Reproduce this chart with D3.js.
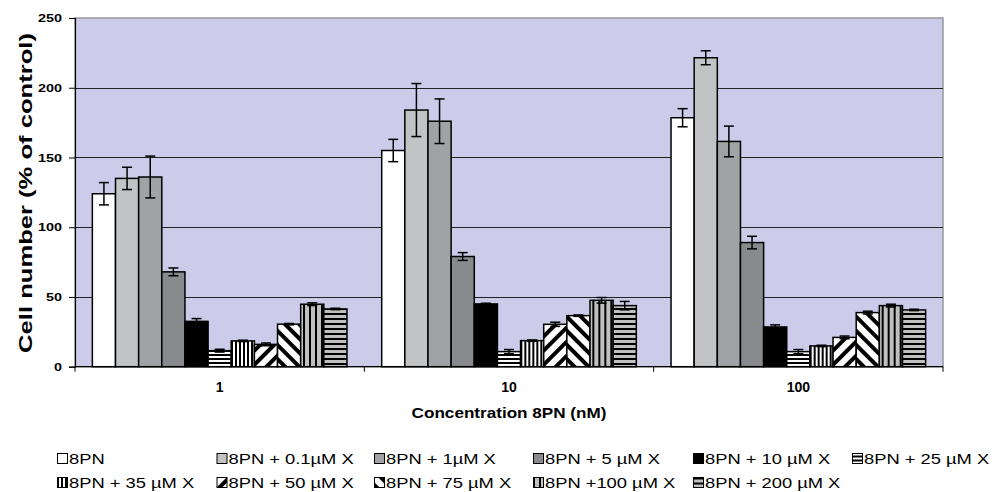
<!DOCTYPE html>
<html>
<head>
<meta charset="utf-8">
<script src="https://cdn.jsdelivr.net/npm/d3@7"></script>
<style>
body { margin: 0; background: #fff; }
text { font-family: Arial, "Liberation Sans", sans-serif; }
</style>
</head>
<body>
<div id="chart"></div>
<script>
const width = 993;
const height = 492;
const margin = {top: 18, right: 50, bottom: 125, left: 75};

// data
const groups = ['1', '10', '100'];
const seriesNames = ['8PN', '8PN + 0.1µM X', '8PN + 1µM X', '8PN + 5 µM X', '8PN + 10 µM X', '8PN + 25 µM X',
  '8PN + 35 µM X', '8PN + 50 µM X', '8PN + 75 µM X', '8PN +100 µM X', '8PN + 200 µM X'];
const values1 = [124, 135, 136, 68, 32.5, 11.5, 18.5, 16, 30.5, 44.8, 41.4];
const values10 = [155, 184, 176, 79, 45, 10.8, 18.7, 30.4, 36.6, 47.6, 43.8];
const values100 = [178.5, 221.5, 161.5, 89, 28.5, 10.8, 14.9, 21, 38.8, 43.8, 40.7];
const errors1 = [8, 8, 15, 2.8, 2, 1, 0.5, 1, 0.5, 1, 0.5];
const errors10 = [8, 19, 16, 2.8, 0.5, 1.5, 0.5, 1.5, 0.5, 2, 3];
const errors100 = [6.5, 5, 11, 4.5, 1.5, 1.5, 0.5, 1, 1, 1, 0.5];
const yTicks = [0, 50, 100, 150, 200, 250];

const allValues = [values1, values10, values100];
const allErrors = [errors1, errors10, errors100];

const innerW = 943 - margin.left;
const innerH = 366.7 - margin.top;

const svg = d3.select('#chart').append('svg').attr('width', width).attr('height', height);
const defs = svg.append('defs');

// hatch patterns
function pattern(id, w, h, bg, draw) {
  const p = defs.append('pattern').attr('id', id).attr('patternUnits', 'userSpaceOnUse')
    .attr('width', w).attr('height', h);
  p.append('rect').attr('width', w).attr('height', h).attr('fill', bg);
  draw(p);
}
pattern('p25', 4, 4, '#fff', p => p.append('rect').attr('y', 0).attr('width', 4).attr('height', 2).attr('fill', '#000'));
pattern('p35', 4, 4, '#fff', p => p.append('rect').attr('x', 0).attr('width', 2).attr('height', 4).attr('fill', '#000'));
pattern('p50', 10, 10, '#fff', p => {
  p.attr('patternTransform', 'rotate(45)');
  p.append('rect').attr('x', 0).attr('width', 4).attr('height', 10).attr('fill', '#000');
});
pattern('p75', 10, 10, '#fff', p => {
  p.attr('patternTransform', 'rotate(-45)');
  p.append('rect').attr('x', 0).attr('width', 4).attr('height', 10).attr('fill', '#000');
});
pattern('p100', 6, 6, '#c0c0c0', p => p.append('rect').attr('x', 0).attr('width', 2).attr('height', 6).attr('fill', '#000'));
pattern('p200', 5, 5, '#c0c0c0', p => p.append('rect').attr('y', 0).attr('width', 5).attr('height', 2).attr('fill', '#000'));

const fills = ['#ffffff', '#c2c3c5', '#a0a2a6', '#888a8e', '#000000', 'url(#p25)',
  'url(#p35)', 'url(#p50)', 'url(#p75)', 'url(#p100)', 'url(#p200)'];

// stretch a text element horizontally so it reaches a given width
function fitWidth(sel, target, extra) {
  sel.each(function (d) {
    const w = this.getComputedTextLength();
    const t = typeof target === 'function' ? target(d) : target;
    d3.select(this).attr('transform', `${extra || ''} scale(${t / w},1)`);
  });
}

const g = svg.append('g').attr('transform', `translate(${margin.left},${margin.top})`);

const x0 = d3.scaleBand().domain(groups).range([0, innerW]).paddingInner(0).paddingOuter(0);
const x1 = d3.scaleBand().domain(d3.range(seriesNames.length)).range([0, x0.bandwidth()])
  .paddingInner(0).paddingOuter(0.75);
const y = d3.scaleLinear().domain([0, 250]).range([innerH, 0]);

// plot background
g.append('rect').attr('width', innerW).attr('height', innerH).attr('fill', '#ccccea')
  .attr('stroke', '#999').attr('stroke-width', 1.5);

// gridlines
g.selectAll('.grid').data(yTicks.filter(t => t > 0 && t < 250)).enter().append('line')
  .attr('x1', 0).attr('x2', innerW)
  .attr('y1', d => Math.round(y(d)) + 0.5).attr('y2', d => Math.round(y(d)) + 0.5)
  .attr('stroke', '#222').attr('stroke-width', 1.2);

// bars
const groupG = g.selectAll('.grp').data(groups).enter().append('g')
  .attr('transform', d => `translate(${x0(d)},0)`);

groupG.each(function (grp, gi) {
  const sel = d3.select(this);
  const vals = allValues[gi];
  const errs = allErrors[gi];
  sel.selectAll('rect').data(vals).enter().append('rect')
    .attr('x', (d, i) => x1(i))
    .attr('y', d => y(d))
    .attr('width', x1.bandwidth())
    .attr('height', d => innerH - y(d))
    .attr('fill', (d, i) => fills[i])
    .attr('stroke', '#000').attr('stroke-width', 1.5);

  const eb = sel.selectAll('.err').data(vals).enter().append('g').attr('class', 'err');
  const cx = (d, i) => x1(i) + x1.bandwidth() / 2;
  eb.append('line')
    .attr('x1', cx).attr('x2', cx)
    .attr('y1', (d, i) => y(d + errs[i])).attr('y2', (d, i) => y(d - errs[i]))
    .attr('stroke', '#000').attr('stroke-width', 1.5);
  eb.append('line')
    .attr('x1', (d, i) => cx(d, i) - 5).attr('x2', (d, i) => cx(d, i) + 5)
    .attr('y1', (d, i) => y(d + errs[i])).attr('y2', (d, i) => y(d + errs[i]))
    .attr('stroke', '#000').attr('stroke-width', 1.5);
  eb.append('line')
    .attr('x1', (d, i) => cx(d, i) - 5).attr('x2', (d, i) => cx(d, i) + 5)
    .attr('y1', (d, i) => y(d - errs[i])).attr('y2', (d, i) => y(d - errs[i]))
    .attr('stroke', '#000').attr('stroke-width', 1.5);
});

// y axis
const yAxis = g.append('g').call(d3.axisLeft(y).tickValues(yTicks).tickSize(6).tickPadding(6));
yAxis.select('.domain').attr('stroke', '#000').attr('stroke-width', 1.2);
yAxis.selectAll('.tick line').attr('stroke', '#000');
const yLabels = yAxis.selectAll('.tick text').attr('font-size', 11).attr('font-weight', 'bold').attr('fill', '#000')
  .attr('x', 0).style('font-family', 'Arial, "Liberation Sans", sans-serif');
fitWidth(yLabels, d => String(d).length * 8, 'translate(-13,0)');

// x axis
const xAxisG = g.append('g').attr('transform', `translate(0,${innerH})`);
xAxisG.append('line').attr('x1', 0).attr('x2', innerW).attr('stroke', '#000').attr('stroke-width', 1.2);
xAxisG.selectAll('.xt').data([0, 1, 2, 3]).enter().append('line')
  .attr('x1', d => d * x0.bandwidth()).attr('x2', d => d * x0.bandwidth())
  .attr('y1', 0).attr('y2', 5).attr('stroke', '#000');
xAxisG.selectAll('.xl').data(groups).enter().append('text')
  .attr('x', d => x0(d) + x0.bandwidth() / 2).attr('y', 25.5)
  .attr('text-anchor', 'middle').attr('font-size', 14).attr('font-weight', 'bold').text(d => d);

// axis titles
const xTitle = svg.append('text').attr('y', 418)
  .attr('text-anchor', 'middle').attr('font-size', 15).attr('font-weight', 'bold')
  .text('Concentration 8PN (nM)');
fitWidth(xTitle, 195, `translate(${margin.left + innerW / 2},0)`);
const yTitle = svg.append('text')
  .attr('text-anchor', 'middle').attr('font-size', 19).attr('font-weight', 'bold')
  .text('Cell number (% of control)');
fitWidth(yTitle, 320, 'translate(32,193) rotate(-90)');

// legend
const legendX = [57, 216.5, 374, 533, 693, 852];
const legend = svg.append('g');
const li = legend.selectAll('.li').data(seriesNames).enter().append('g')
  .attr('transform', (d, i) => `translate(${legendX[i % 6]},${i < 6 ? 463.5 : 487.5})`);
li.append('rect').attr('x', 0.5).attr('y', -10).attr('width', 10).attr('height', 10)
  .attr('fill', (d, i) => fills[i]).attr('stroke', '#000').attr('stroke-width', 1);
li.append('text').attr('transform', 'translate(12,0) scale(1.31,1)').attr('font-size', 14).text(d => d);
</script>
</body>
</html>
